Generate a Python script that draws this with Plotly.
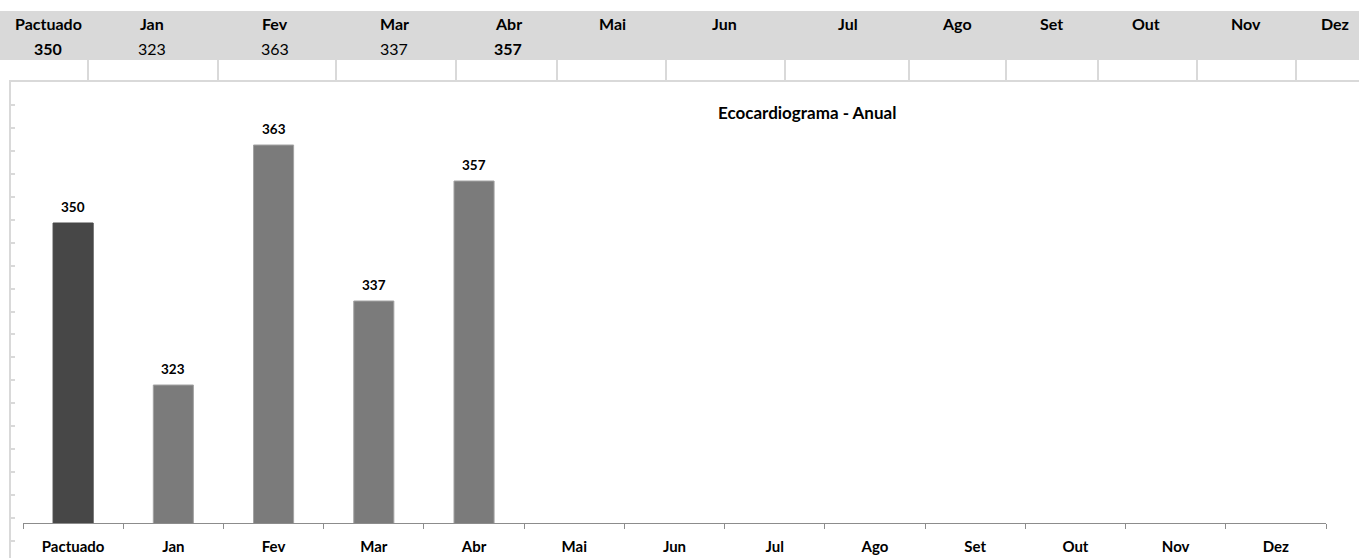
import plotly.graph_objects as go

# ---- data ----
categories = ["Pactuado", "Jan", "Fev", "Mar", "Abr", "Mai", "Jun", "Jul", "Ago", "Set", "Out", "Nov", "Dez"]
values = [350, 323, 363, 337, 357, None, None, None, None, None, None, None, None]
bold_header = [True, False, False, False, True, False, False, False, False, False, False, False, False]
chart_title = "Ecocardiograma - Anual"

# ---- layout constants (pixels) ----
W, H = 1359, 558
header_x = [48, 152, 275, 394, 508, 612, 724, 848, 957, 1051, 1146, 1246, 1335]
cell_borders = [88, 218, 336, 456, 557, 666, 785, 909, 1006, 1098, 1197, 1296]
FONT = "Lato"


def px(x):
    return x / W


def py(y):
    return 1 - y / H


bar_colors = ["#474747"] + ["#7b7b7b"] * (len(categories) - 1)
bar_lines = ["#474747"] + ["#a3a3a3"] * (len(categories) - 1)

fig = go.Figure()
fig.add_trace(go.Bar(
    x=categories, y=values, width=0.4,
    marker=dict(color=bar_colors, line=dict(color=bar_lines, width=1)),
    hoverinfo="x+y", showlegend=False,
))
# empty trace to register the decorative side-axes subplot
fig.add_trace(go.Scatter(x=[], y=[], xaxis="x2", yaxis="y2", showlegend=False))

annotations = []
# bar value labels
for c, v in zip(categories, values):
    if v is not None:
        annotations.append(dict(x=c, y=v, xref="x", yref="y", text=f"<b>{v}</b>",
                                showarrow=False, yshift=16,
                                xanchor="center", yanchor="middle",
                                font=dict(family=FONT, size=13.5, color="black")))
# header labels and values
for hx, c, v, b in zip(header_x, categories, values, bold_header):
    annotations.append(dict(x=px(hx), y=py(23), xref="paper", yref="paper",
                            text=f"<b>{c}</b>", showarrow=False,
                            xanchor="center", yanchor="middle",
                            font=dict(family=FONT, size=16, color="black")))
    if v is not None:
        t = f"<b>{v}</b>" if b else f"{v}"
        annotations.append(dict(x=px(hx), y=py(48), xref="paper", yref="paper",
                                text=t, showarrow=False,
                                xanchor="center", yanchor="middle",
                                font=dict(family=FONT, size=16, color="black")))
# chart title
annotations.append(dict(x=px(807), y=py(112), xref="paper", yref="paper",
                        text=f"<b>{chart_title}</b>", showarrow=False,
                        xanchor="center", yanchor="middle",
                        font=dict(family=FONT, size=17, color="black")))

shapes = [
    dict(type="rect", xref="paper", yref="paper", x0=0, x1=1, y0=py(60), y1=py(11),
         fillcolor="#d9d9d9", line=dict(width=0), layer="below"),
    dict(type="line", xref="paper", yref="paper", x0=px(9), x1=1, y0=py(81), y1=py(81),
         line=dict(color="#d9d9d9", width=2)),
]
for bx in cell_borders:
    shapes.append(dict(type="line", xref="paper", yref="paper", x0=px(bx), x1=px(bx),
                       y0=py(60), y1=py(81), line=dict(color="#d9d9d9", width=2)))

fig.update_layout(
    width=W, height=H,
    margin=dict(l=0, r=0, t=0, b=0),
    paper_bgcolor="white", plot_bgcolor="rgba(0,0,0,0)",
    bargap=0.6,
    xaxis=dict(domain=[px(23), px(1326)], anchor="y", type="category",
               categoryorder="array", categoryarray=categories,
               showline=True, linecolor="#8c8c8c", linewidth=1,
               ticks="outside", ticklen=5, tickcolor="#8c8c8c", tickson="boundaries",
               showgrid=False, zeroline=False, ticklabelstandoff=10,
               tickfont=dict(family=FONT, size=15, color="black"),
               tickvals=categories, ticktext=[f"<b>{c}</b>" for c in categories]),
    yaxis=dict(domain=[py(523), py(82)], range=[300, 373.5], visible=False,
               showgrid=False, zeroline=False),
    xaxis2=dict(domain=[0, 1], anchor="y2", visible=False, range=[0, 1]),
    yaxis2=dict(domain=[0, py(81)], range=[0, 477], anchor="free", position=px(10),
                side="left", showline=True, linecolor="#d9d9d9", linewidth=2,
                ticks="inside", ticklen=4, tickwidth=2, tickcolor="#d9d9d9",
                tick0=17, dtick=22.95, showticklabels=False, showgrid=False, zeroline=False),
    yaxis3=dict(overlaying="y2", range=[0, 477], anchor="free", position=1.0,
                side="right", showline=False,
                ticks="inside", ticklen=7, tickwidth=2, tickcolor="#d9d9d9",
                tick0=17, dtick=22.95, showticklabels=False, showgrid=False, zeroline=False),
    annotations=annotations,
    shapes=shapes,
)

fig.write_html(
    "out.html",
    config={"displayModeBar": False},
    post_script="document.body.style.margin='0';document.body.style.overflow='hidden';",
)
